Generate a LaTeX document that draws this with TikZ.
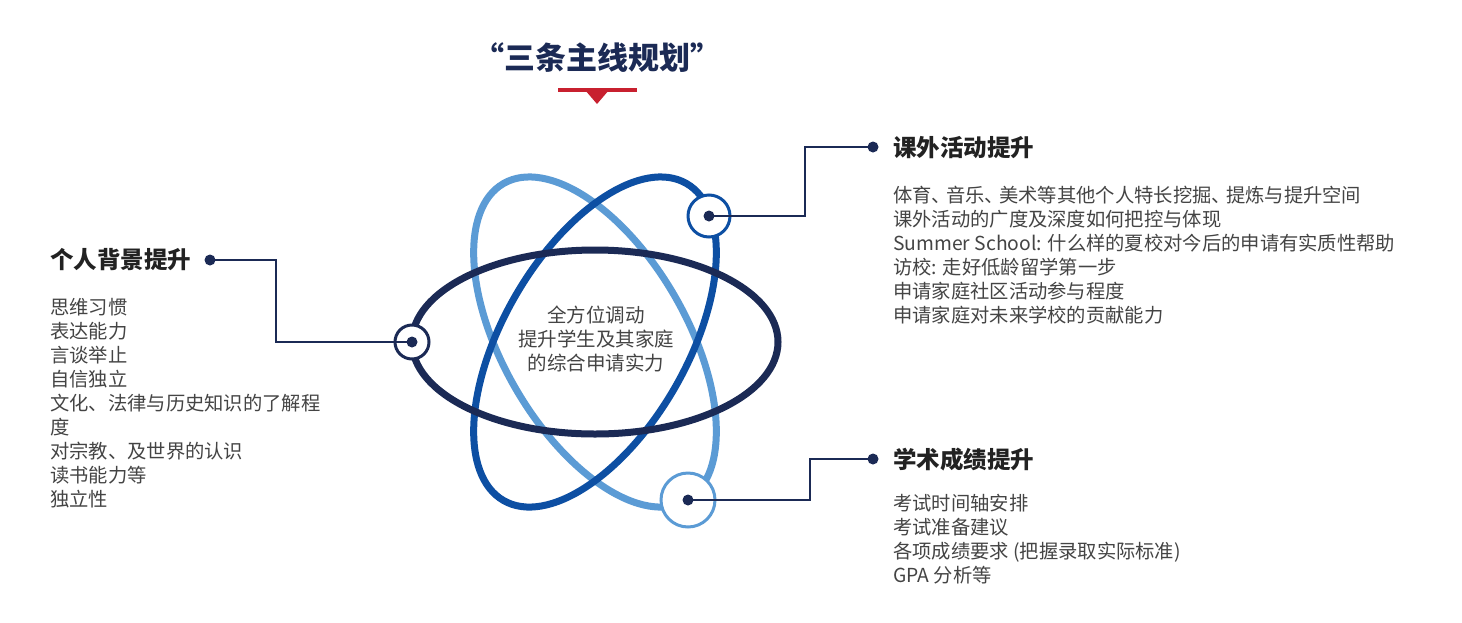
\documentclass[tikz,border=0pt]{standalone}
\usepackage{fontspec}
\setmainfont{Noto Sans CJK SC}
\definecolor{navy}{HTML}{1B2A55}
\definecolor{midblue}{HTML}{0D4FA3}
\definecolor{lightblue}{HTML}{5B9BD5}
\definecolor{redbar}{HTML}{C8202F}
\definecolor{bodytext}{HTML}{444444}
\definecolor{headtext}{HTML}{222222}
\newcommand\dun{\makebox[0.75em][l]{、}}
\begin{document}
\begin{tikzpicture}[x=1pt,y=-1pt,
  orbit/.style={line width=7pt},
  hub/.style={circle,fill=white,line width=3pt,inner sep=0pt},
  core/.style={circle,fill=navy,minimum size=11pt,inner sep=0pt},
  enddot/.style={circle,fill=navy,minimum size=11pt,inner sep=0pt},
  link/.style={draw=navy,line width=1.8pt},
  heading/.style={anchor=west,inner sep=0pt,font=\fontsize{23.5}{28}\selectfont\bfseries,text=headtext},
  bodylines/.style={anchor=north west,inner sep=0pt,align=left,font=\fontsize{19.3}{24}\selectfont,text=bodytext},
]
\useasboundingbox (0,0) rectangle (1462,622);
\fill[white] (0,0) rectangle (1462,622);

% title
\node[font=\fontsize{31}{35}\selectfont\bfseries,text=navy,inner sep=0pt] (title) at (597,58) {“三条主线规划”};
\draw[redbar,line width=4pt] (558,90) -- (637,90);
\fill[redbar] (585,90) -- (609,90) -- (597,104) -- cycle;

% orbits
\draw[orbit,lightblue] (595,342) ellipse[x radius=183,y radius=92,rotate=-60];
\draw[orbit,midblue] (595,342) ellipse[x radius=183,y radius=92,rotate=60];
\draw[orbit,navy] (595,342) ellipse[x radius=183,y radius=92];

% center text
\node[align=center,inner sep=0pt,font=\fontsize{19.5}{24}\selectfont,text=bodytext] (centre) at (596,339) {全方位调动\\提升学生及其家庭\\的综合申请实力};

% hubs
\node[hub,draw=midblue,minimum size=42pt] (hubA) at (709,216) {};
\node[hub,draw=navy,minimum size=34pt] (hubB) at (412,342) {};
\node[hub,draw=lightblue,minimum size=54pt] (hubC) at (688,500) {};

% end dots
\node[enddot] (endA) at (873,147) {};
\node[enddot] (endB) at (210,260) {};
\node[enddot] (endC) at (873,459) {};

\draw[link] (hubA.center) -| (805,147) -- (endA.center);
\draw[link] (hubB.center) -| (276,260) -- (endB.center);
\draw[link] (hubC.center) -| (810,459) -- (endC.center);
\node[core] (coreA) at (hubA) {};
\node[core] (coreB) at (hubB) {};
\node[core] (coreC) at (hubC) {};

% headings
\node[heading] (hA) at (893,148) {课外活动提升};
\node[heading] (hB) at (50,260) {个人背景提升};
\node[heading] (hC) at (893,460) {学术成绩提升};

% body
\node[bodylines] (bA) at (893,186) {体育\dun 音乐\dun 美术等其他个人特长挖掘\dun 提炼与提升空间\\课外活动的广度及深度如何把控与体现\\Summer School: 什么样的夏校对今后的申请有实质性帮助\\访校: 走好低龄留学第一步\\申请家庭社区活动参与程度\\申请家庭对未来学校的贡献能力};
\node[bodylines] (bB) at (50,298) {思维习惯\\表达能力\\言谈举止\\自信独立\\文化、法律与历史知识的了解程\\度\\对宗教、及世界的认识\\读书能力等\\独立性};
\node[bodylines] (bC) at (893,494) {考试时间轴安排\\考试准备建议\\各项成绩要求 (把握录取实际标准)\\GPA 分析等};
\end{tikzpicture}
\end{document}
